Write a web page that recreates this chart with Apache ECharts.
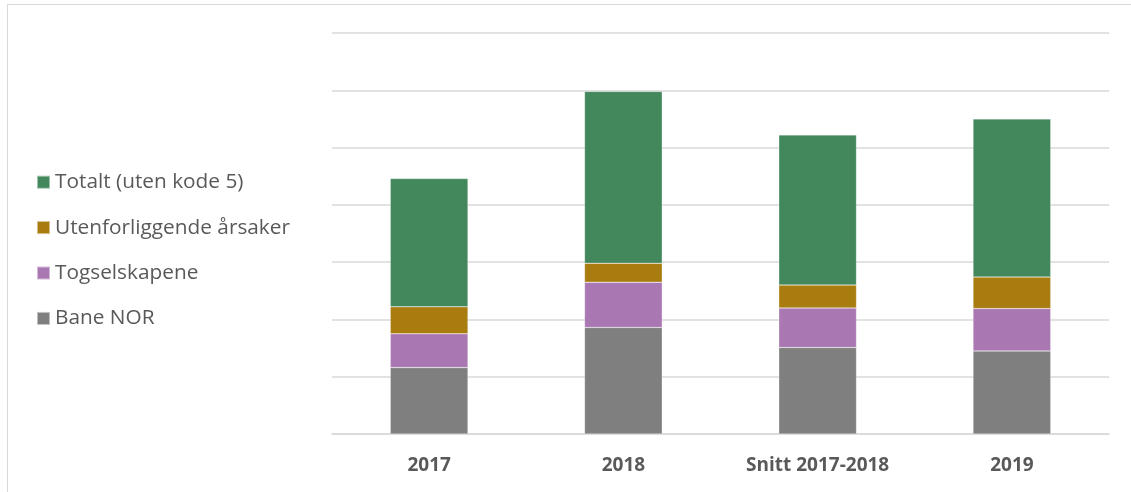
<!DOCTYPE html>
<html>
<head>
<meta charset="utf-8">
<script src="https://cdn.jsdelivr.net/npm/echarts@6/dist/echarts.min.js"></script>
<style>
  html, body { margin: 0; padding: 0; background: #fff; }
  #frame {
    position: absolute; left: 7px; top: 4px; width: 1124px; height: 488px;
    border-top: 1px solid #d9d9d9; border-left: 1px solid #d9d9d9;
  }
  #chart { position: absolute; left: 0; top: 0; width: 1131px; height: 492px; }
</style>
</head>
<body>
<div id="frame"></div>
<div id="chart"></div>
<script>
// categories along the x axis
const categories = ["2017", "2018", "Snitt 2017-2018", "2019"];

// stacked segments, bottom to top
const baneNor = [11.6, 18.6, 15.1, 14.5];
const togselskapene = [5.9, 7.9, 6.9, 7.4];
const utenforliggende = [4.7, 3.3, 4.0, 5.5];
const totalt = [22.4, 30.0, 26.2, 27.6];

const seriesNames = ["Bane NOR", "Togselskapene", "Utenforliggende årsaker", "Totalt (uten kode 5)"];
const seriesColors = ["#7f7f7f", "#a977b2", "#a97c10", "#43885c"];
const seriesValues = [baneNor, togselskapene, utenforliggende, totalt];

const chart = echarts.init(document.getElementById("chart"));

const options = {
  animation: false,
  textStyle: { fontFamily: "Open Sans" },
  grid: { left: 332, right: 22, top: 33, bottom: 58 },
  legend: {
    orient: "vertical",
    left: 36,
    top: 171,
    padding: 0,
    itemWidth: 13,
    itemHeight: 13,
    itemGap: 23,
    icon: "rect",
    data: seriesNames.slice().reverse(),
    textStyle: { fontSize: 20.8, color: "#595959", lineHeight: 22.4, fontFamily: "Open Sans" },
  },
  xAxis: {
    type: "category",
    data: categories,
    axisTick: { show: false },
    axisLine: { lineStyle: { color: "#d9d9d9", width: 1.5 } },
    axisLabel: {
      margin: 22,
      fontSize: 19,
      fontWeight: "bold",
      color: "#595959",
      fontFamily: "Open Sans",
    },
  },
  yAxis: {
    type: "value",
    min: 0,
    max: 70,
    interval: 10,
    axisLabel: { show: false },
    axisLine: { show: false },
    axisTick: { show: false },
    splitLine: { lineStyle: { color: "#d9d9d9", width: 1.5 } },
  },
  series: seriesNames.map((name, i) => ({
    name: name,
    type: "bar",
    stack: "total",
    barWidth: "40%",
    data: seriesValues[i],
    itemStyle: { color: seriesColors[i], borderColor: "rgba(255,255,255,0.5)", borderWidth: 0.5 },
  })),
};

chart.setOption(options);
</script>
</body>
</html>
